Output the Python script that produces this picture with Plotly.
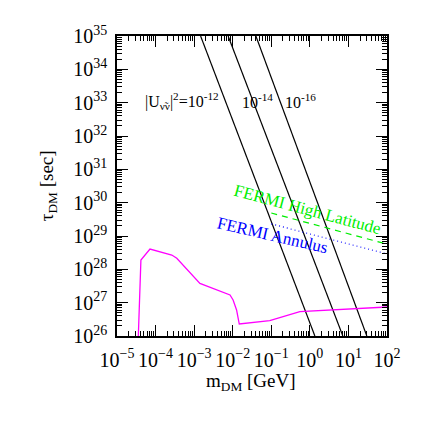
import numpy as np
import plotly.graph_objects as go

# ---------------- data ----------------
# mixing-angle lines |U|^2 = 1e-12, 1e-14, 1e-16 : mass where tau crosses top (1e35) and bottom (1e26)
coupling_labels = ["1e-12", "1e-14", "1e-16"]
line_mass_top = [1.47e-3, 7.6e-3, 0.0399]
line_mass_bottom = [1.35, 7.16, 30.0]
line_tau = [1e35, 1e26]

# FERMI limits
fermi_hl_mass = [0.1, 100.0]
fermi_hl_tau = [4.9e29, 5.7e28]
fermi_an_mass = [0.1, 100.0]
fermi_an_tau = [2.3e29, 2.9e28]

# magenta constraint curve
mag_logm = [-4.45, -4.38, -4.145, -3.58, -3.45, -2.85, -2.07, -1.99, -1.90, -1.83, -1.04, -0.26, 2.0]
mag_logtau = [25.9, 28.28, 28.61, 28.43, 28.33, 27.58, 27.23, 27.08, 26.78, 26.36, 26.46, 26.73, 26.87]

# axes
x_tick_exps = [-5, -4, -3, -2, -1, 0, 1, 2]
y_tick_exps = [26, 27, 28, 29, 30, 31, 32, 33, 34, 35]
x_range = [-5, 2]
y_range = [26, 35]

SERIF = "Liberation Serif"


def pow_labels(exps):
    return ["10<sup>%s</sup>" % (str(e).replace("-", "−")) for e in exps]


fig = go.Figure()

for mt, mb in zip(line_mass_top, line_mass_bottom):
    fig.add_trace(go.Scatter(x=[mt, mb], y=line_tau, mode="lines",
                             line=dict(color="black", width=1.2), showlegend=False))

fig.add_trace(go.Scatter(x=fermi_hl_mass, y=fermi_hl_tau, mode="lines",
                         line=dict(color="#00ee00", width=1.2, dash="6px,5px"), showlegend=False))
fig.add_trace(go.Scatter(x=fermi_an_mass, y=fermi_an_tau, mode="lines",
                         line=dict(color="#0000ff", width=1.2, dash="1px,3px"), showlegend=False))

fig.add_trace(go.Scatter(x=10 ** np.array(mag_logm), y=10 ** np.array(mag_logtau), mode="lines",
                         line=dict(color="#ff00ff", width=1.3), showlegend=False))

axis_common = dict(
    type="log",
    showline=True, linecolor="black", linewidth=1.5, mirror="allticks",
    ticks="inside", ticklen=11, tickcolor="black", tickwidth=1,
    minor=dict(ticks="inside", ticklen=5, tickcolor="black", dtick="D1", showgrid=False),
    showgrid=False, zeroline=False, tickangle=0, automargin=False,
    tickfont=dict(family=SERIF, size=20, color="black"),
)

fig.update_xaxes(**axis_common, range=x_range, tickmode="array",
                 tickvals=[10.0 ** e for e in x_tick_exps], ticktext=pow_labels(x_tick_exps),
                 ticklabelstandoff=5)
fig.update_yaxes(**axis_common, range=y_range, tickmode="array",
                 tickvals=[10.0 ** e for e in y_tick_exps], ticktext=pow_labels(y_tick_exps),
                 ticklabelstandoff=4)

# axis titles
fig.add_annotation(x=0.496, y=-0.153, xref="paper", yref="paper", xanchor="center", yanchor="middle",
                   text="m<sub>DM</sub> [GeV]", showarrow=False,
                   font=dict(family=SERIF, size=19, color="black"))
fig.add_annotation(x=-0.255, y=0.5, xref="paper", yref="paper", xanchor="center", yanchor="middle",
                   text="τ<sub>DM</sub> [sec]", showarrow=False, textangle=-90,
                   font=dict(family=SERIF, size=19, color="black"))

annots = [
    dict(x=-3.32, y=33.05, text="|U<sub>ν̃ν</sub>|<sup>2</sup>=10<sup>-12</sup>", textangle=0, color="black", size=16),
    dict(x=-1.35, y=33.05, text="10<sup>-14</sup>", textangle=0, color="black", size=16),
    dict(x=-0.23, y=33.05, text="10<sup>-16</sup>", textangle=0, color="black", size=16),
    dict(x=-0.07, y=29.80, text="FERMI High Latitude", textangle=15, color="#00ee00", size=17),
    dict(x=-0.96, y=29.01, text="FERMI Annulus", textangle=13, color="#0000ff", size=17),
]
for a in annots:
    fig.add_annotation(x=a["x"], y=a["y"], xref="x", yref="y", text=a["text"], showarrow=False,
                       textangle=a["textangle"], font=dict(family=SERIF, size=a["size"], color=a["color"]))

# page body adds an 8px offset, so the figure is 414px and margins are reduced by 8px
fig.update_layout(
    width=414, height=414,
    margin=dict(l=109, r=35, t=28, b=86),
    paper_bgcolor="white", plot_bgcolor="white",
)

fig.write_html("out.html")
